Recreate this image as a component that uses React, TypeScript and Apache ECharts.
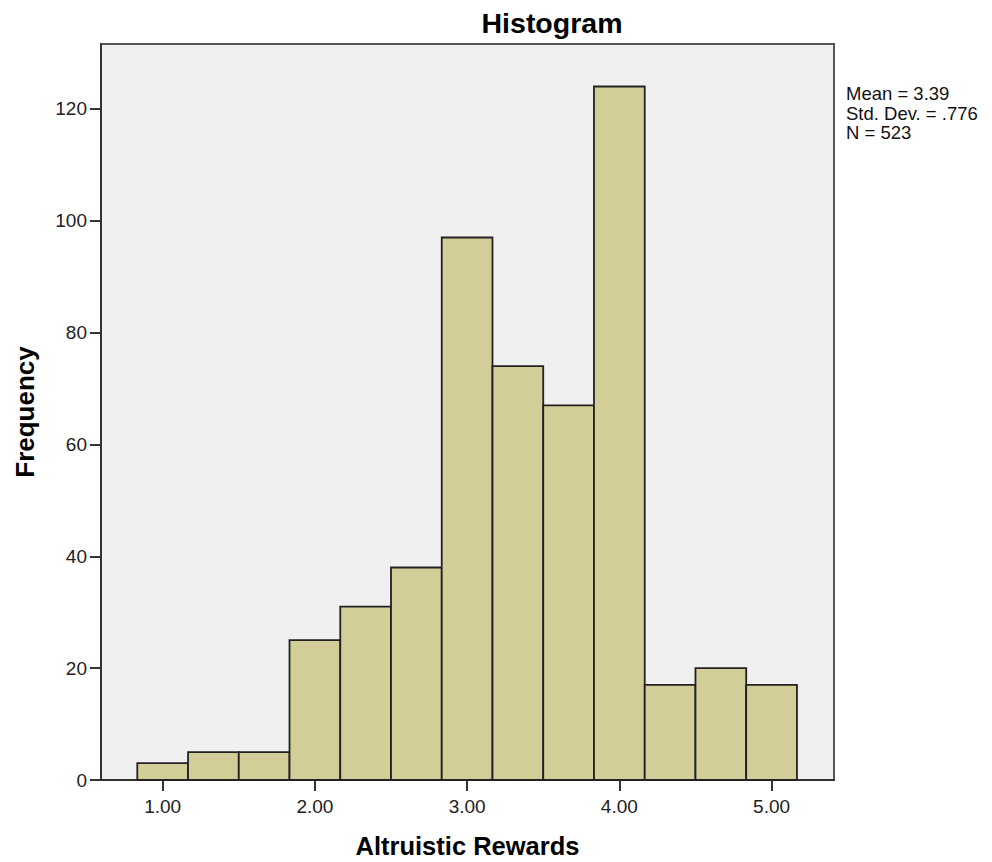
import React, { useEffect, useRef } from "react";
import * as echarts from "echarts";

const binStarts = [0.8333, 1.1667, 1.5, 1.8333, 2.1667, 2.5, 2.8333, 3.1667, 3.5, 3.8333, 4.1667, 4.5, 4.8333];
const binWidth = 1 / 3;
const frequencies = [3, 5, 5, 25, 31, 38, 97, 74, 67, 124, 17, 20, 17];
const xTicks = [1, 2, 3, 4, 5];
const yTicks = [0, 20, 40, 60, 80, 100, 120];
const statsLines = ["Mean = 3.39", "Std. Dev. = .776", "N = 523"];

const FONT = "'Liberation Sans', Arial, sans-serif";

export default function App() {
  const ref = useRef<HTMLDivElement>(null);
  useEffect(() => {
    const chart = echarts.init(ref.current!, null, { renderer: "svg" });
    const data = binStarts.map((s, i) => [s, s + binWidth, frequencies[i]]);
    chart.setOption({
      animation: false,
      backgroundColor: "#ffffff",
      title: {
        text: "Histogram",
        left: 547,
        top: 3,
        textAlign: "center",
        textStyle: { fontFamily: FONT, fontSize: 28.5, fontWeight: "bold", color: "#000" },
      },
      grid: {
        left: 101,
        right: 158,
        top: 44,
        bottom: 82,
        outerBoundsMode: "none",
        containLabel: false,
        show: true,
        backgroundColor: "#f0f0f0",
        borderColor: "#555",
        borderWidth: 2,
      },
      xAxis: {
        type: "value",
        min: 0.595,
        max: 5.41,
        name: "Altruistic Rewards",
        nameLocation: "middle",
        nameGap: 53,
        nameTextStyle: { fontFamily: FONT, fontSize: 25.5, fontWeight: "bold", color: "#000" },
        splitLine: { show: false },
        axisLine: { show: true, onZero: false, lineStyle: { color: "#333", width: 2 } },
        axisTick: { show: true, length: 11, customValues: xTicks, lineStyle: { color: "#333", width: 2 } },
        axisLabel: {
          customValues: xTicks,
          formatter: (v: number) => v.toFixed(2),
          fontFamily: FONT,
          fontSize: 19,
          color: "#222",
          margin: 17,
        },
      },
      yAxis: {
        type: "value",
        min: 0,
        max: 131.6,
        name: "Frequency",
        nameLocation: "middle",
        nameGap: 63,
        nameTextStyle: { fontFamily: FONT, fontSize: 26, fontWeight: "bold", color: "#000" },
        splitLine: { show: false },
        axisLine: { show: true, lineStyle: { color: "#333", width: 2 } },
        axisTick: { show: true, length: 11, customValues: yTicks, lineStyle: { color: "#333", width: 2 } },
        axisLabel: {
          customValues: yTicks,
          fontFamily: FONT,
          fontSize: 19,
          color: "#222",
          margin: 14,
        },
      },
      series: [
        {
          type: "custom",
          data,
          renderItem: (params: any, api: any) => {
            const x0 = api.value(0);
            const x1 = api.value(1);
            const y = api.value(2);
            const p0 = api.coord([x0, y]);
            const p1 = api.coord([x1, 0]);
            return {
              type: "rect",
              shape: { x: p0[0], y: p0[1], width: p1[0] - p0[0], height: p1[1] - p0[1] },
              style: { fill: "#d3ce97", stroke: "#222", lineWidth: 1.8 },
            };
          },
        },
      ],
      graphic: statsLines.map((line, i) => ({
        type: "text",
        left: 846,
        top: 84 + i * 19.7,
        style: {
          text: line,
          fontFamily: FONT,
          fontSize: 18.5,
          fill: "#111",
        },
      })),
    });
    return () => chart.dispose();
  }, []);
  return <div ref={ref} style={{ width: 992, height: 862, position: "absolute", left: 0, top: 0 }} />;
}
